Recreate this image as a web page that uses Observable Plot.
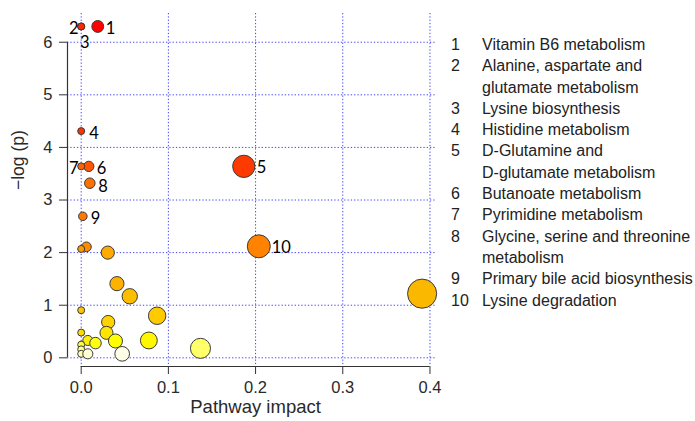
<!DOCTYPE html>
<html>
<head>
<meta charset="utf-8">
<script src="https://cdn.jsdelivr.net/npm/d3@7"></script>
<script src="https://cdn.jsdelivr.net/npm/@observablehq/plot@0.6"></script>
<style>
  html, body { margin: 0; padding: 0; background: #fff; }
  #wrap { position: relative; width: 695px; height: 421px; overflow: hidden; }
  #chart { position: absolute; left: 0; top: 0; }
  #legend { position: absolute; left: 451px; top: 34px; font-family: "Liberation Sans", Arial, sans-serif;
            font-size: 16px; line-height: 21.3px; color: #222; }
  .row { display: flex; }
  .num { width: 31px; flex: none; }
  .txt { white-space: pre-line; }
</style>
</head>
<body>
<div id="wrap">
  <div id="chart"></div>
  <div id="legend"></div>
</div>
<script>
// ---- data (ordered by p-value rank) ----
const pointLabels = ["1","2","3","4","5","6","7","8","9","10",
  "","","","","","","","","","","","","","","","","","","","",""];
const impact = [0.019, 0, 0, 0, 0.1865, 0.0087, 0, 0.0099, 0.0019, 0.2037,
  0.006, 0, 0.0305, 0.041, 0.391, 0.0557, 0, 0.0871, 0.031, 0, 0.029,
  0.0076, 0.0776, 0.0393, 0.0164, 0, 0.1368, 0, 0, 0.0076, 0.047];
const negLogP = [6.30, 6.30, 6.30, 4.31, 3.64, 3.64, 3.64, 3.32, 2.69, 2.12,
  2.11, 2.07, 2.00, 1.41, 1.22, 1.17, 0.905, 0.80, 0.68, 0.48, 0.475,
  0.33, 0.33, 0.32, 0.28, 0.25, 0.18, 0.16, 0.076, 0.076, 0.076];
const legendNumbers = ["1","2","3","4","5","6","7","8","9","10"];
const pathwayNames = ["Vitamin B6 metabolism", "Alanine, aspartate and\nglutamate metabolism",
  "Lysine biosynthesis", "Histidine metabolism", "D-Glutamine and\nD-glutamate metabolism",
  "Butanoate metabolism", "Pyrimidine metabolism", "Glycine, serine and threonine\nmetabolism",
  "Primary bile acid biosynthesis", "Lysine degradation"];
const xTicks = [0, 0.1, 0.2, 0.3, 0.4];
const yTicks = [0, 1, 2, 3, 4, 5, 6];
const xLabel = "Pathway impact";
const yLabel = "\u2212log (p)";

// ---- build ----
const data = impact.map((x, i) => ({x, y: negLogP[i], rank: i + 1, label: pointLabels[i]}));
const heat = d3.scaleLinear()
  .domain([1, 2, 4, 5, 6, 8, 11, 13, 15, 17, 19, 21, 24, 25, 26, 27, 28, 29, 30, 31])
  .range(["#ff0000", "#ff1c00", "#ff3300", "#ff3a00", "#ff5500", "#ff7000", "#ff8c00", "#ffaa00",
          "#fbb800", "#ffc400", "#ffd200", "#ffe600", "#ffff00", "#ffff12", "#ffff40", "#ffff6a",
          "#ffff90", "#ffffb4", "#ffffd2", "#ffffe8"])
  .interpolate(d3.interpolateRgb);

const xDomain = [-0.0157, 0.4075];
const yDomain = [-0.165, 6.546];
const labeled = data.filter(d => d.label);
const leftSet = new Set(["2", "7"]);
const belowSet = new Set(["3"]);
const wideSet = new Set(["5", "10"]);
const lowSet = new Set(["8"]);
const sans = "Liberation Sans, Arial, sans-serif";
const tickFont = {fontSize: 16.5, fontFamily: sans, fill: "#2a2a2a"};
const lblFont = {fontSize: 16.5, fontFamily: "Lato, sans-serif", fill: "#000"};
const plainRight = d => !leftSet.has(d.label) && !belowSet.has(d.label) && !wideSet.has(d.label) && !lowSet.has(d.label);

const plot = Plot.plot({
  width: 440, height: 421,
  marginLeft: 67, marginRight: 4, marginTop: 13, marginBottom: 55,
  style: {background: "transparent", overflow: "visible"},
  x: {domain: xDomain},
  y: {domain: yDomain},
  r: {type: "sqrt", domain: [0, 0.4], range: [3.5, 14.7]},
  marks: [
    Plot.gridX(xTicks, {stroke: "#2222ff", strokeOpacity: 0.85, strokeDasharray: "1.3,2", strokeWidth: 1}),
    Plot.gridY(yTicks, {stroke: "#2222ff", strokeOpacity: 0.85, strokeDasharray: "1.3,2", strokeWidth: 1}),
    Plot.ruleX([xDomain[0]], {y1: d3.min(yTicks), y2: d3.max(yTicks), stroke: "#333", strokeWidth: 1.2}),
    Plot.ruleY([yDomain[0]], {x1: d3.min(xTicks), x2: d3.max(xTicks), stroke: "#333", strokeWidth: 1.2}),
    Plot.axisX({ticks: xTicks, tickFormat: d3.format(".1f"), tickSize: 8, tickPadding: 6.5, label: null,
      stroke: "#333", ...tickFont}),
    Plot.axisY({ticks: yTicks, tickFormat: d3.format("d"), tickSize: 8, tickPadding: 7, label: null,
      stroke: "#333", ...tickFont}),
    Plot.text([xLabel], {x: [d3.mean(xTicks)], frameAnchor: "bottom", dy: 46, fontSize: 18.5,
      fontFamily: sans, fill: "#2a2a2a"}),
    Plot.text([yLabel], {frameAnchor: "left", dx: -49, rotate: -90, fontSize: 17.5,
      fontFamily: sans, fill: "#2a2a2a"}),
    Plot.dot(data, {x: "x", y: "y", r: "x", fill: d => heat(d.rank), stroke: "#3a3a3a", strokeWidth: 1,
      sort: null}),
    Plot.text(labeled.filter(plainRight),
      {x: "x", y: "y", text: "label", textAnchor: "start", dx: 8, dy: 2.5, ...lblFont}),
    Plot.text(labeled.filter(d => lowSet.has(d.label)),
      {x: "x", y: "y", text: "label", textAnchor: "start", dx: 8.5, dy: 3.5, ...lblFont}),
    Plot.text(labeled.filter(d => wideSet.has(d.label)),
      {x: "x", y: "y", text: "label", textAnchor: "start", dx: 13, dy: 1.5, ...lblFont}),
    Plot.text(labeled.filter(d => leftSet.has(d.label)),
      {x: "x", y: "y", text: "label", textAnchor: "end", dx: -2.5, dy: 2.5, ...lblFont}),
    Plot.text(labeled.filter(d => belowSet.has(d.label)),
      {x: "x", y: "y", text: "label", textAnchor: "middle", dx: 3.5, dy: 16.5, ...lblFont})
  ]
});
document.getElementById("chart").appendChild(plot);

const legend = document.getElementById("legend");
legendNumbers.forEach((n, i) => {
  const row = document.createElement("div");
  row.className = "row";
  const a = document.createElement("div"); a.className = "num"; a.textContent = n;
  const b = document.createElement("div"); b.className = "txt"; b.textContent = pathwayNames[i];
  row.appendChild(a); row.appendChild(b);
  legend.appendChild(row);
});
</script>
</body>
</html>
